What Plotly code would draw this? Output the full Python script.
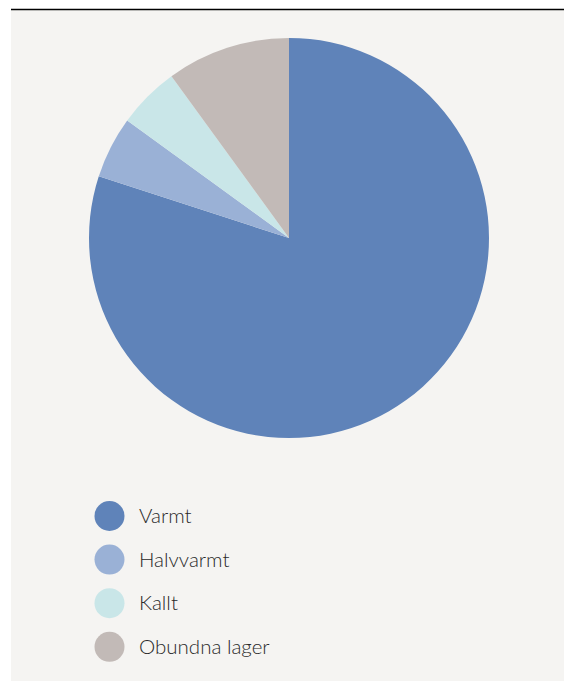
import plotly.graph_objects as go

categories = ["Varmt", "Halvvarmt", "Kallt", "Obundna lager"]
values = [80, 5, 5, 10]
colors = ["#5f83b9", "#9ab1d6", "#c9e6e8", "#c2bab7"]

W, H = 564, 682

def px(x):
    return x / W

def py(y):
    return 1 - y / H

fig = go.Figure()
fig.add_trace(go.Pie(
    labels=categories,
    values=values,
    sort=False,
    direction="clockwise",
    rotation=0,
    marker=dict(colors=colors, line=dict(width=0)),
    textinfo="none",
    hoverinfo="label+percent",
    showlegend=False,
    domain=dict(x=[px(89), px(489)], y=[py(438), py(38)]),
))

shapes = [
    dict(type="rect", xref="paper", yref="paper", x0=px(11), x1=px(564), y0=py(681), y1=py(10),
         fillcolor="#f5f4f2", line=dict(width=0), layer="below"),
    dict(type="line", xref="paper", yref="paper", x0=px(11), x1=px(564), y0=py(9.5), y1=py(9.5),
         line=dict(color="#000000", width=1.5)),
]
annotations = []
y0 = 516
step = 43.6
for i, (c, col) in enumerate(zip(categories, colors)):
    cy = y0 + i * step
    shapes.append(dict(type="circle", xref="paper", yref="paper",
                       x0=px(109.5 - 15), x1=px(109.5 + 15), y0=py(cy + 15), y1=py(cy - 15),
                       fillcolor=col, line=dict(width=0)))
    annotations.append(dict(xref="paper", yref="paper", x=px(137), y=py(cy - 1), text=c,
                            showarrow=False, xanchor="left", yanchor="middle",
                            font=dict(family="Lato", size=20.5, color="#2a2a2a", weight=300)))

fig.update_layout(
    width=W, height=H,
    margin=dict(l=0, r=0, t=0, b=0),
    paper_bgcolor="#ffffff",
    plot_bgcolor="#ffffff",
    shapes=shapes,
    annotations=annotations,
)

fig.write_html(
    "out.html",
    config={"displayModeBar": False},
    post_script="document.body.style.margin='0';document.body.style.overflow='hidden';",
)
